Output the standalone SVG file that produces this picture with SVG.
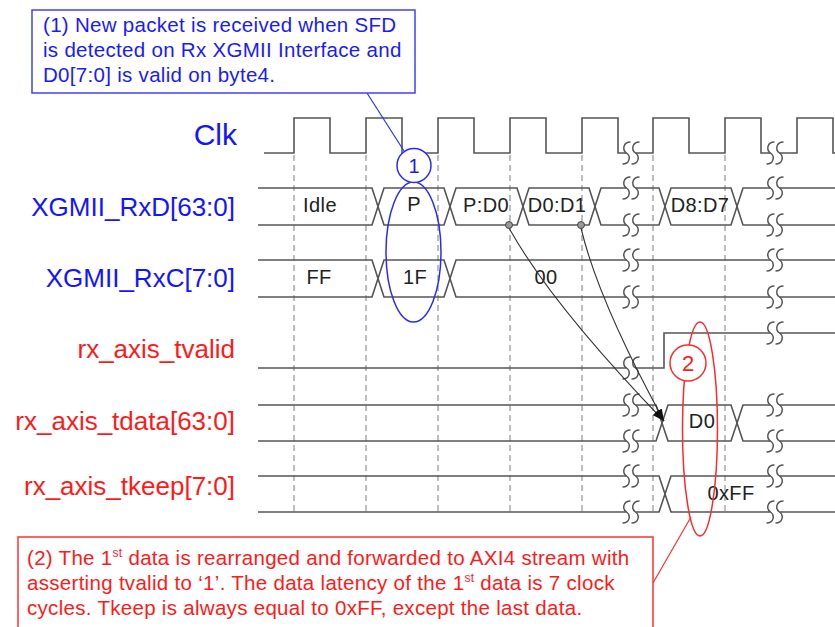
<svg xmlns="http://www.w3.org/2000/svg" xmlns:xlink="http://www.w3.org/1999/xlink" width="835" height="627" viewBox="0 0 835 627">
<style>
.sig{fill:none;stroke:#555;stroke-width:1.6}
.grid{stroke:#a8a8a8;stroke-width:1.5;stroke-dasharray:6 4;fill:none}
.lb{font-family:"Liberation Sans",Arial,sans-serif;font-size:26px;fill:#1414ff;text-anchor:end}
.lr{font-family:"Liberation Sans",Arial,sans-serif;font-size:26px;fill:#ff1a1a;text-anchor:end}
.val{font-family:"Liberation Sans",Arial,sans-serif;font-size:20px;letter-spacing:0.4px;fill:#222;text-anchor:middle}
.nb{font-family:"Liberation Sans",Arial,sans-serif;font-size:20.5px;letter-spacing:0.3px;fill:#1a1aff}
.nr{font-family:"Liberation Sans",Arial,sans-serif;font-size:20.5px;letter-spacing:0.3px;fill:#ff1a1a}
.conn{fill:none;stroke:#333;stroke-width:1.1}
</style>
<defs>
<g id="brk">
<rect x="-4.5" y="-12" width="9" height="24" fill="#fff"/>
<path d="M-0.5,-11 C-8,-11 -9,-3 -4.5,0 C0,3 -1,11 -8.5,11 M8.5,-11 C1,-11 0,-3 4.5,0 C9,3 8,11 0.5,11" fill="none" stroke="#555" stroke-width="1.5"/>
</g>
<marker id="ah" viewBox="0 0 12 8" markerWidth="12" markerHeight="8" markerUnits="userSpaceOnUse" refX="12" refY="4" orient="auto">
<path d="M0,0 L12,4 L0,8 z" fill="#111"/>
</marker>
</defs>

<g id="grid">
<line class="grid" x1="294" y1="155" x2="294" y2="515"/>
<line class="grid" x1="366" y1="155" x2="366" y2="515"/>
<line class="grid" x1="438" y1="155" x2="438" y2="515"/>
<line class="grid" x1="510" y1="155" x2="510" y2="515"/>
<line class="grid" x1="582" y1="155" x2="582" y2="515"/>
<line class="grid" x1="653" y1="155" x2="653" y2="515"/>
<line class="grid" x1="725" y1="155" x2="725" y2="515"/>
</g>

<g id="clk">
<text class="lb" x="237" y="145" style="font-size:30px">Clk</text>
<path class="sig" d="M264,153 H294 V118 H330 V153 H366 V118 H402 V153 H438 V118 H474 V153 H510 V118 H546 V153 H582 V118 H618 V153 H653 V118 H689 V153 H725 V118 H761 V153 H797 V118 H833 V153 H835"/>
<use xlink:href="#brk" x="631" y="153"/>
<use xlink:href="#brk" x="775" y="153"/>
</g>

<g id="rxd">
<text class="lb" x="235" y="216">XGMII_RxD[63:0]</text>
<path class="sig" d="M258,188 H372 L384,225 H444 L456,188 H517 L529,225 H589 L601,188 H659 L671,225 H731 L743,188 H835"/>
<path class="sig" d="M258,225 H372 L384,188 H444 L456,225 H517 L529,188 H589 L601,225 H659 L671,188 H731 L743,225 H835"/>
<use xlink:href="#brk" x="631" y="188"/>
<use xlink:href="#brk" x="631" y="225"/>
<use xlink:href="#brk" x="775" y="188"/>
<use xlink:href="#brk" x="775" y="225"/>
<text class="val" x="320" y="212">Idle</text>
<text class="val" x="414" y="211">P</text>
<text class="val" x="486" y="212">P:D0</text>
<text class="val" x="557" y="212">D0:D1</text>
<text class="val" x="700" y="212">D8:D7</text>
</g>

<g id="rxc">
<text class="lb" x="235" y="287">XGMII_RxC[7:0]</text>
<path class="sig" d="M258,260 H372 L384,297 H444 L456,260 H835"/>
<path class="sig" d="M258,297 H372 L384,260 H444 L456,297 H835"/>
<use xlink:href="#brk" x="631" y="260"/>
<use xlink:href="#brk" x="631" y="297"/>
<use xlink:href="#brk" x="775" y="260"/>
<use xlink:href="#brk" x="775" y="297"/>
<text class="val" x="319" y="284">FF</text>
<text class="val" x="415" y="284">1F</text>
<text class="val" x="546" y="284">00</text>
</g>

<g id="tvalid">
<text class="lr" x="235" y="358">rx_axis_tvalid</text>
<path class="sig" d="M258,368 H664 V333 H835"/>
<use xlink:href="#brk" x="631" y="368"/>
<use xlink:href="#brk" x="775" y="333"/>
</g>

<g id="tdata">
<text class="lr" x="235" y="430">rx_axis_tdata[63:0]</text>
<path class="sig" d="M258,405 H656 L668,441 H731 L743,405 H835"/>
<path class="sig" d="M258,441 H656 L668,405 H731 L743,441 H835"/>
<use xlink:href="#brk" x="631" y="405"/>
<use xlink:href="#brk" x="631" y="441"/>
<use xlink:href="#brk" x="775" y="405"/>
<use xlink:href="#brk" x="775" y="441"/>
<text class="val" x="702" y="428">D0</text>
</g>

<g id="tkeep">
<text class="lr" x="235" y="495">rx_axis_tkeep[7:0]</text>
<path class="sig" d="M258,476 H659 L671,512 H835"/>
<path class="sig" d="M258,512 H659 L671,476 H835"/>
<use xlink:href="#brk" x="631" y="476"/>
<use xlink:href="#brk" x="631" y="512"/>
<use xlink:href="#brk" x="775" y="476"/>
<use xlink:href="#brk" x="775" y="512"/>
<text class="val" x="731" y="500">0xFF</text>
</g>

<g id="connectors">
<path class="conn" d="M509,228 Q552,305 664,421" marker-end="url(#ah)"/>
<path class="conn" d="M581,228 Q598,300 664,421" marker-end="url(#ah)"/>
<circle cx="509" cy="225" r="3.5" fill="#999" stroke="#444" stroke-width="1"/>
<circle cx="581" cy="225" r="3.5" fill="#999" stroke="#444" stroke-width="1"/>
<line x1="367" y1="93" x2="404" y2="151" stroke="#3030ff" stroke-width="1.2"/>
<line x1="653" y1="583" x2="691" y2="517" stroke="#ff3030" stroke-width="1.2"/>
</g>

<g id="note1">
<rect x="32" y="10" width="383" height="83" fill="#fff" stroke="#4040ff" stroke-width="1.5"/>
<text class="nb" x="43" y="32">(1) New packet is received when SFD</text>
<text class="nb" x="43" y="57">is detected on Rx XGMII Interface and</text>
<text class="nb" x="43" y="82">D0[7:0] is valid on byte4.</text>
</g>

<g id="mark1">
<ellipse cx="413.5" cy="252" rx="27.5" ry="70" fill="none" stroke="#2a2aff" stroke-width="1.5"/>
<circle cx="414" cy="165.5" r="17" fill="#fff" stroke="#2a2aff" stroke-width="1.5"/>
<text x="414" y="172.5" text-anchor="middle" style="font-family:'Liberation Sans',Arial,sans-serif;font-size:20px;fill:#1a1aff">1</text>
</g>

<g id="mark2">
<ellipse cx="700" cy="429" rx="17.5" ry="107" fill="none" stroke="#ff2a2a" stroke-width="1.5"/>
<circle cx="688" cy="363" r="18" fill="#fff" stroke="#ff2a2a" stroke-width="1.5"/>
<text x="688" y="371" text-anchor="middle" style="font-family:'Liberation Sans',Arial,sans-serif;font-size:22px;fill:#ff1a1a">2</text>
</g>

<g id="note2">
<rect x="18" y="537" width="635" height="100" fill="#fff" stroke="#ff3030" stroke-width="1.5"/>
<text class="nr" x="27" y="565">(2) The 1<tspan font-size="12" dy="-8">st</tspan><tspan dy="8"> data is rearranged and forwarded to AXI4 stream with</tspan></text>
<text class="nr" x="27" y="590">asserting tvalid to ‘1’. The data latency of the 1<tspan font-size="12" dy="-8">st</tspan><tspan dy="8"> data is 7 clock</tspan></text>
<text class="nr" x="27" y="615">cycles. Tkeep is always equal to 0xFF, except the last data.</text>
</g>
</svg>
